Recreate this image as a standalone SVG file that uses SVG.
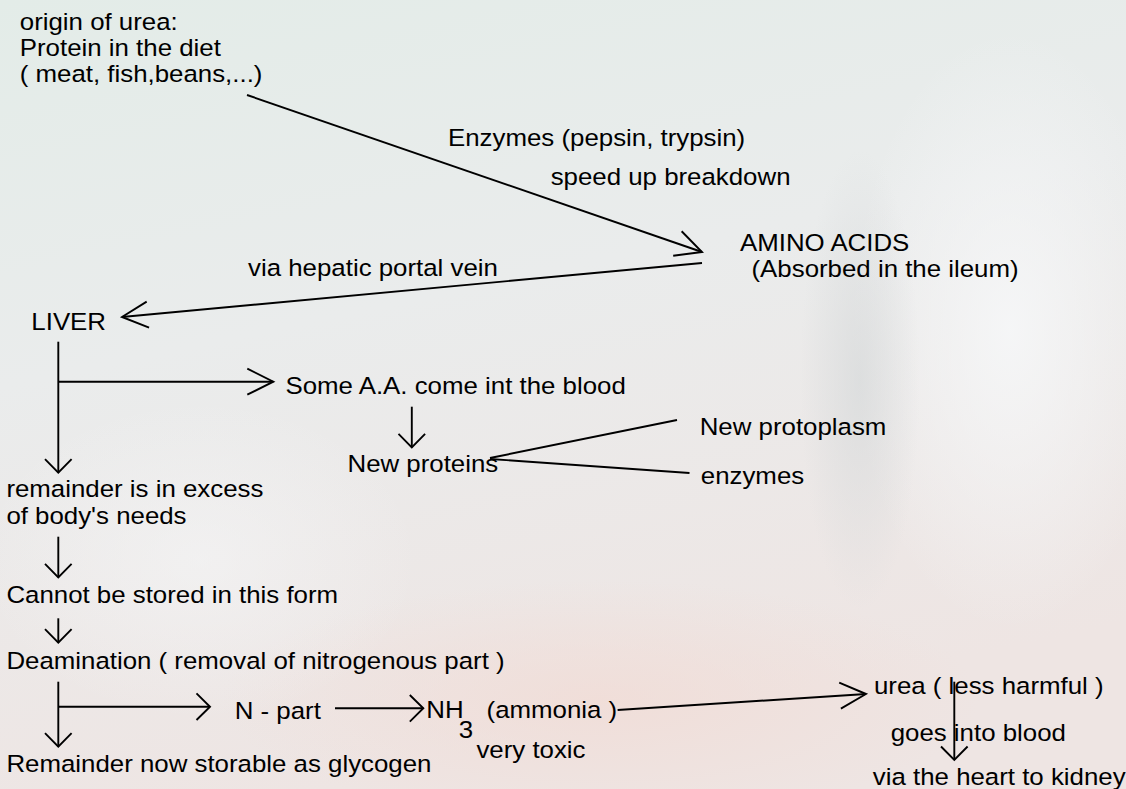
<svg xmlns="http://www.w3.org/2000/svg" width="1126" height="789" viewBox="0 0 1126 789">
<style>
.t{font-family:"Liberation Sans",Arial,sans-serif;font-size:23.5px;fill:#000}
.c{stroke:#000;stroke-width:1.9;fill:none}
.big{marker-end:url(#bigHead)}
.sm{marker-end:url(#smHead)}
</style>
<defs>
<linearGradient id="bg" x1="0" y1="0" x2="0.3" y2="1">
<stop offset="0" stop-color="#e3ece8"/>
<stop offset="0.45" stop-color="#eaecec"/>
<stop offset="1" stop-color="#eee5e3"/>
</linearGradient>
<radialGradient id="glowR" cx="0.5" cy="0.5" r="0.5">
<stop offset="0" stop-color="#f6f7f8" stop-opacity="0.9"/>
<stop offset="1" stop-color="#f6f7f8" stop-opacity="0"/>
</radialGradient>
<radialGradient id="pink" cx="0.5" cy="0.5" r="0.5">
<stop offset="0" stop-color="#f1dcd6" stop-opacity="0.8"/>
<stop offset="1" stop-color="#f1dcd6" stop-opacity="0"/>
</radialGradient>
<radialGradient id="grey" cx="0.5" cy="0.5" r="0.5">
<stop offset="0" stop-color="#d6d9da" stop-opacity="0.7"/>
<stop offset="1" stop-color="#d6d9da" stop-opacity="0"/>
</radialGradient>
<marker id="bigHead" markerUnits="userSpaceOnUse" markerWidth="40" markerHeight="40" refX="0" refY="0" orient="auto" overflow="visible">
<path d="M -26 -13 L 0 0 L -26 13" fill="none" stroke="#000" stroke-width="1.9"/>
</marker>
<marker id="smHead" markerUnits="userSpaceOnUse" markerWidth="30" markerHeight="30" refX="0" refY="0" orient="auto" overflow="visible">
<path d="M -13.5 -13.3 L 0 0 L -13.5 13.3" fill="none" stroke="#000" stroke-width="1.9"/>
</marker>
</defs>
<g id="background">
<rect x="0" y="0" width="1126" height="789" fill="url(#bg)"/>
<ellipse cx="1010" cy="330" rx="160" ry="300" fill="url(#glowR)"/>
<ellipse cx="600" cy="700" rx="380" ry="120" fill="url(#pink)"/>
<ellipse cx="860" cy="380" rx="60" ry="230" fill="url(#grey)"/>
<ellipse cx="200" cy="560" rx="220" ry="160" fill="url(#glowR)" opacity="0.6"/>
</g>
<g id="connectors">
<line class="c big" x1="247" y1="95" x2="702" y2="252"/>
<line class="c big" x1="702" y1="263" x2="122" y2="317"/>
<line class="c sm" x1="58.3" y1="341.7" x2="58.3" y2="472.7"/>
<line class="c big" x1="58.3" y1="381.7" x2="273.3" y2="381.7"/>
<line class="c sm" x1="411.8" y1="406.7" x2="411.8" y2="447.3"/>
<line class="c" x1="490" y1="458" x2="677" y2="420"/>
<line class="c" x1="490" y1="459" x2="689.5" y2="473"/>
<line class="c sm" x1="58.3" y1="536.7" x2="58.3" y2="577.3"/>
<line class="c sm" x1="58.3" y1="618.3" x2="58.3" y2="642.7"/>
<line class="c sm" x1="58.3" y1="681.7" x2="58.3" y2="746.7"/>
<line class="c sm" x1="58.3" y1="706.7" x2="210" y2="706.7"/>
<line class="c sm" x1="335" y1="708.3" x2="423.3" y2="708.3"/>
<line class="c big" x1="617.6" y1="710" x2="866" y2="694"/>
<line class="c sm" x1="954.3" y1="681.7" x2="954.3" y2="760"/>
</g>
<g id="nodes" transform="scale(1.1 1)">
<g id="n-origin">
<text class="t" x="18" y="30.5">origin of urea:</text>
<text class="t" x="18" y="56">Protein in the diet</text>
<text class="t" x="18" y="82">( meat, fish,beans,...)</text>
</g>
<g id="l-enzymes"><text class="t" x="407.3" y="146.5">Enzymes (pepsin, trypsin)</text></g>
<g id="l-speed"><text class="t" x="500.6" y="185.5">speed up breakdown</text></g>
<g id="n-amino">
<text class="t" x="672.7" y="251">AMINO ACIDS</text>
<text class="t" x="683.2" y="277">(Absorbed in the ileum)</text>
</g>
<g id="l-hepatic"><text class="t" x="225.5" y="276">via hepatic portal vein</text></g>
<g id="n-liver"><text class="t" x="28.5" y="330">LIVER</text></g>
<g id="n-someaa"><text class="t" x="259.5" y="394.5">Some A.A. come int the blood</text></g>
<g id="n-newproteins"><text class="t" x="315.9" y="472">New proteins</text></g>
<g id="n-protoplasm"><text class="t" x="636.1" y="435">New protoplasm</text></g>
<g id="n-enzymes2"><text class="t" x="637.1" y="484">enzymes</text></g>
<g id="n-remainder">
<text class="t" x="5.8" y="497">remainder is in excess</text>
<text class="t" x="5.8" y="524">of body's needs</text>
</g>
<g id="n-cannot"><text class="t" x="5.8" y="603">Cannot be stored in this form</text></g>
<g id="n-deamination"><text class="t" x="5.8" y="669">Deamination ( removal of nitrogenous part )</text></g>
<g id="n-npart"><text class="t" x="213.4" y="719.5">N - part</text></g>
<g id="n-nh3">
<text class="t" x="387.5" y="718.5">NH</text>
<text class="t" x="417" y="738">3</text>
<text class="t" x="442.3" y="718.5">(ammonia )</text>
<text class="t" x="433.1" y="758">very toxic</text>
</g>
<g id="n-glycogen"><text class="t" x="5.8" y="772.5">Remainder now storable as glycogen</text></g>
<g id="n-urea"><text class="t" x="794.5" y="694.5">urea ( less harmful )</text></g>
<g id="l-blood"><text class="t" x="809.7" y="741.5">goes into blood</text></g>
<g id="n-kidney"><text class="t" x="793.5" y="785">via the heart to kidney</text></g>
</g>
</svg>
